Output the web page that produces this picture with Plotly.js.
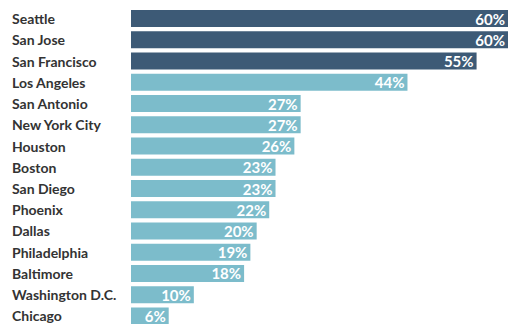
<!DOCTYPE html>
<html><head><meta charset="utf-8">
<script src="https://cdn.plot.ly/plotly-3.0.1.min.js"></script>
<style>html,body{margin:0;padding:0;background:#fff;}#chart{width:508px;height:324px;}</style>
</head><body><div id="chart"></div>
<script>
const cities = ["Seattle","San Jose","San Francisco","Los Angeles","San Antonio","New York City","Houston","Boston","San Diego","Phoenix","Dallas","Philadelphia","Baltimore","Washington D.C.","Chicago"];
const values = [60,60,55,44,27,27,26,23,23,22,20,19,18,10,6];
const highlightCount = 3;
const darkColor = "#3d5a76";
const lightColor = "#7cbccb";

const colors = values.map((v,i)=> i < highlightCount ? darkColor : lightColor);
const plotLeft = 131, plotWidth = 508 - 131;

const trace = {
  type: "bar",
  orientation: "h",
  y: cities,
  x: values,
  marker: {color: colors},
  text: values.map(v => v + "%"),
  textposition: "inside",
  insidetextanchor: "end",
  textangle: 0,
  textfont: {family: "Lato", size: 15, color: "#ffffff", weight: "bold"},
  cliponaxis: false,
  hoverinfo: "none"
};

const annotations = cities.map(c => ({
  xref: "paper", yref: "y",
  x: (10 - plotLeft) / plotWidth, y: c,
  xanchor: "left", yanchor: "middle",
  text: c, showarrow: false,
  font: {family: "Lato", size: 14, color: "#333333", weight: "bold"}
}));

const layout = {
  width: 508, height: 324,
  margin: {l: plotLeft, r: 0, t: 8, b: 0},
  paper_bgcolor: "#ffffff", plot_bgcolor: "#ffffff",
  bargap: 0.2,
  showlegend: false,
  xaxis: {range: [0, 60], visible: false, fixedrange: true},
  yaxis: {type: "category", range: [14.38, -0.5], showticklabels: false, showgrid: false, zeroline: false, showline: false, ticks: ""},
  annotations: annotations,
  uniformtext: {mode: "show", minsize: 15}
};

Plotly.newPlot("chart", [trace], layout, {displayModeBar: false, staticPlot: true});
</script></body></html>
